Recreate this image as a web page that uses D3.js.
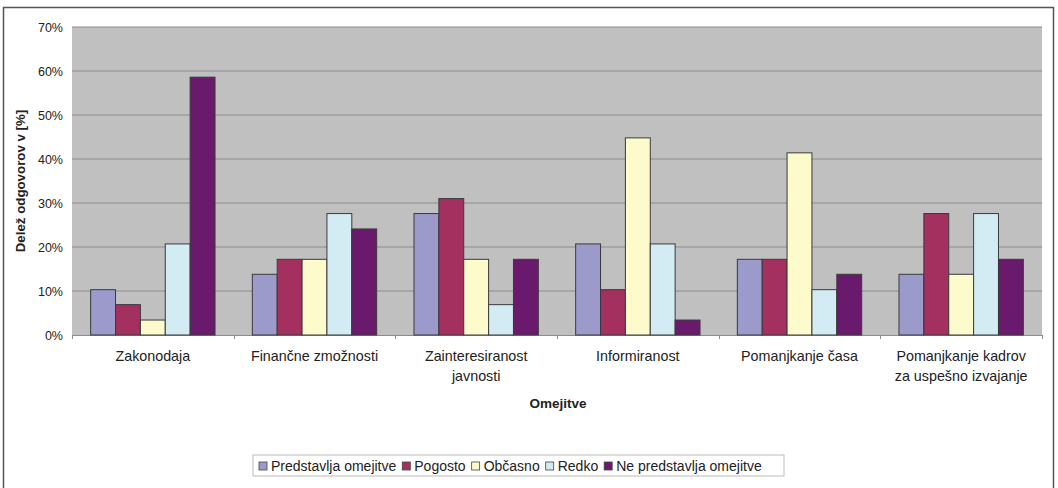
<!DOCTYPE html>
<html>
<head>
<meta charset="utf-8">
<script src="https://cdn.jsdelivr.net/npm/d3@7"></script>
<style>
  body { margin: 0; background: #fff; }
  svg { display: block; font-family: "Liberation Sans", Arial, sans-serif; }
</style>
</head>
<body>
<div id="chart"></div>
<script>
// categories (x axis), line breaks where the original wraps
const categories = [
    ['Zakonodaja'],
    ['Finančne zmožnosti'],
    ['Zainteresiranost', 'javnosti'],
    ['Informiranost'],
    ['Pomanjkanje časa'],
    ['Pomanjkanje kadrov', 'za uspešno izvajanje']
]

const seriesNames = ['Predstavlja omejitve', 'Pogosto', 'Občasno', 'Redko', 'Ne predstavlja omejitve']
const seriesColors = ['#9b9acb', '#a3305f', '#fdfbcb', '#d3ebf2', '#6a1a6c']

// values in %, one array per series
const predstavlja = [10.3, 13.8, 27.6, 20.7, 17.2, 13.8]
const pogosto = [6.9, 17.2, 31.0, 10.3, 17.2, 27.6]
const obcasno = [3.4, 17.2, 17.2, 44.8, 41.4, 13.8]
const redko = [20.7, 27.6, 6.9, 20.7, 10.3, 27.6]
const nePredstavlja = [58.6, 24.1, 17.2, 3.4, 13.8, 17.2]

const yTicks = [0, 10, 20, 30, 40, 50, 60, 70]

const seriesValues = [predstavlja, pogosto, obcasno, redko, nePredstavlja]

const svgWidth = 1058
const svgHeight = 488
const margin = { top: 27, right: 16, bottom: 153, left: 72 }
const width = svgWidth - margin.left - margin.right
const height = svgHeight - margin.top - margin.bottom

const svg = d3.select('#chart')
    .append('svg')
    .attr('width', svgWidth)
    .attr('height', svgHeight)

// outer frame
svg.append('rect')
    .attr('x', 3.5).attr('y', 7.5)
    .attr('width', 1050).attr('height', 485)
    .attr('fill', '#fff')
    .attr('stroke', '#555')
    .attr('stroke-width', 1.5)

const chartGroup = svg.append('g')
    .attr('transform', `translate(${margin.left}, ${margin.top})`)

// scales
const x0 = d3.scaleBand()
    .domain(d3.range(categories.length))
    .range([0, width])

// Excel-like gap width of 150% -> 0.75 bar on each side
const x1 = d3.scaleBand()
    .domain(d3.range(seriesNames.length))
    .range([0, x0.bandwidth()])
    .paddingOuter(0.75)
    .paddingInner(0)

const y = d3.scaleLinear()
    .domain([0, 70])
    .range([height, 0])

// plot background
chartGroup.append('rect')
    .attr('width', width)
    .attr('height', height)
    .attr('fill', '#c0c0c0')

// gridlines
chartGroup.append('g')
    .selectAll('line')
    .data(yTicks.slice(1))
    .enter()
    .append('line')
    .attr('x1', 0).attr('x2', width)
    .attr('y1', d => y(d)).attr('y2', d => y(d))
    .attr('stroke', '#8c8c8c')
    .attr('stroke-width', 1.2)

// y axis
const yAxis = d3.axisLeft(y).tickValues(yTicks).tickFormat(d => d + '%').tickSize(0).tickPadding(9)
const yAxisG = chartGroup.append('g').call(yAxis)
yAxisG.select('.domain').remove()
yAxisG.selectAll('text')
    .attr('font-size', 12.5)
    .attr('fill', '#222')
    .attr('font-family', '"Liberation Sans", Arial, sans-serif')

// x axis line and little ticks between categories
chartGroup.append('line')
    .attr('x1', 0).attr('x2', width)
    .attr('y1', height + 0.5).attr('y2', height + 0.5)
    .attr('stroke', '#8c8c8c')
chartGroup.append('g')
    .selectAll('line')
    .data(d3.range(categories.length + 1))
    .enter()
    .append('line')
    .attr('x1', d => Math.round(d * x0.step()) + 0.5)
    .attr('x2', d => Math.round(d * x0.step()) + 0.5)
    .attr('y1', height).attr('y2', height + 4)
    .attr('stroke', '#8c8c8c')

// bars
const groups = chartGroup.selectAll('.group')
    .data(categories)
    .enter()
    .append('g')
    .attr('class', 'group')
    .attr('transform', (d, i) => `translate(${x0(i)}, 0)`)

groups.selectAll('rect')
    .data((d, i) => seriesValues.map((vals, s) => ({ s: s, v: vals[i] })))
    .enter()
    .append('rect')
    .attr('x', d => x1(d.s))
    .attr('y', d => y(d.v))
    .attr('width', x1.bandwidth())
    .attr('height', d => height - y(d.v))
    .attr('fill', d => seriesColors[d.s])
    .attr('stroke', '#3a3a3a')
    .attr('stroke-width', 1)

// category labels
const catLabels = chartGroup.selectAll('.cat')
    .data(categories)
    .enter()
    .append('text')
    .attr('class', 'cat')
    .attr('x', (d, i) => x0(i) + x0.bandwidth() / 2)
    .attr('y', height + 26)
    .attr('text-anchor', 'middle')
    .attr('font-size', 14.3)
    .attr('fill', '#222')

catLabels.selectAll('tspan')
    .data(d => d)
    .enter()
    .append('tspan')
    .attr('x', function() { return d3.select(this.parentNode).attr('x') })
    .attr('dy', (d, i) => i === 0 ? 0 : 20)
    .text(d => d)

// axis titles
svg.append('text')
    .attr('x', 558)
    .attr('y', 408)
    .attr('text-anchor', 'middle')
    .attr('font-size', 13.5)
    .attr('font-weight', 'bold')
    .attr('fill', '#222')
    .text('Omejitve')

svg.append('text')
    .attr('transform', `translate(25, ${margin.top + height / 2}) rotate(-90)`)
    .attr('text-anchor', 'middle')
    .attr('font-size', 13.3)
    .attr('font-weight', 'bold')
    .attr('fill', '#222')
    .text('Delež odgovorov v [%]')

// legend
const legend = svg.append('g').attr('transform', 'translate(253, 455)')
legend.append('rect')
    .attr('width', 531).attr('height', 21)
    .attr('fill', '#fff')
    .attr('stroke', '#bbb')

let lx = 6
seriesNames.forEach(function(name, i) {
    legend.append('rect')
        .attr('x', lx).attr('y', 7)
        .attr('width', 8).attr('height', 8)
        .attr('fill', seriesColors[i])
        .attr('stroke', '#444')
        .attr('stroke-width', 0.8)
    const t = legend.append('text')
        .attr('x', lx + 12)
        .attr('y', 15.5)
        .attr('font-size', 14)
        .attr('fill', '#222')
        .text(name)
    lx += 12 + t.node().getComputedTextLength() + 6
})
</script>
</body>
</html>
